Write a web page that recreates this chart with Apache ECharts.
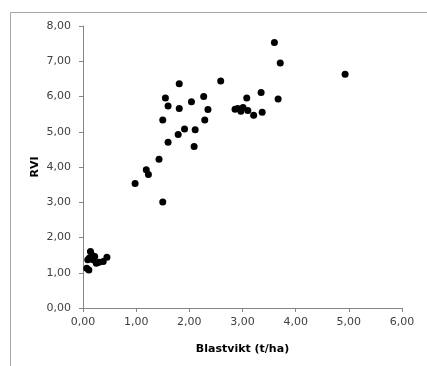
<!DOCTYPE html>
<html>
<head>
<meta charset="utf-8">
<script src="https://cdn.jsdelivr.net/npm/echarts@6/dist/echarts.min.js"></script>
<style>
  html, body { margin: 0; padding: 0; background: #fff; }
</style>
</head>
<body>
<div id="chart-container" style="width: 427px; height: 366px;"></div>
<script>
// Blastvikt (t/ha) och RVI
const blastvikt = [
    3.60, 3.71, 4.93, 2.59, 1.81, 3.35, 2.27, 1.55, 3.08, 3.67,
    2.04, 1.60, 1.81, 2.35, 2.86, 2.91, 2.97, 3.01, 3.10, 3.21,
    3.37, 1.50, 2.29, 1.91, 2.11, 1.79, 1.60, 2.09, 1.43, 1.19,
    1.23, 0.98, 1.50,
    0.14, 0.07, 0.11, 0.12, 0.22, 0.25, 0.38, 0.45, 0.19, 0.09, 0.17, 0.30
];
const rvi = [
    7.53, 6.95, 6.63, 6.44, 6.36, 6.11, 6.00, 5.96, 5.96, 5.93,
    5.85, 5.73, 5.66, 5.63, 5.64, 5.66, 5.58, 5.69, 5.60, 5.47,
    5.55, 5.33, 5.33, 5.08, 5.06, 4.92, 4.70, 4.58, 4.22, 3.92,
    3.79, 3.53, 3.01,
    1.60, 1.13, 1.08, 1.42, 1.46, 1.27, 1.32, 1.44, 1.37, 1.37, 1.50, 1.30
];
const xTicks = [0, 1, 2, 3, 4, 5, 6];
const yTicks = [0, 1, 2, 3, 4, 5, 6, 7, 8];

const chart = echarts.init(document.getElementById("chart-container"));

const fmt = v => v.toFixed(2).replace(".", ",");
const axisGray = "#868686";

const options = {
    animation: false,
    textStyle: { fontFamily: "DejaVu Sans" },
    graphic: [
        {
            type: "rect",
            left: 8,
            top: 10,
            shape: { width: 440, height: 380 },
            style: { fill: null, stroke: "#a6a6a6", lineWidth: 1 }
        }
    ],
    grid: {
        left: 83,
        right: 25,
        top: 26,
        bottom: 58
    },
    xAxis: {
        type: "value",
        min: xTicks[0],
        max: xTicks[xTicks.length - 1],
        interval: 1,
        name: "Blastvikt (t/ha)",
        nameLocation: "middle",
        nameGap: 36,
        nameTextStyle: { fontSize: 11, fontWeight: "bold", color: "#000" },
        splitLine: { show: false },
        axisLine: { show: true, lineStyle: { color: axisGray } },
        axisTick: { show: true, length: 4, lineStyle: { color: axisGray } },
        axisLabel: { formatter: fmt, fontSize: 11, color: "#404040", margin: 9 }
    },
    yAxis: {
        type: "value",
        min: yTicks[0],
        max: yTicks[yTicks.length - 1],
        interval: 1,
        name: "RVI",
        nameLocation: "middle",
        nameGap: 42,
        nameMoveOverlap: false,
        nameRotate: 90,
        nameTextStyle: { fontSize: 11, fontWeight: "bold", color: "#000" },
        splitLine: { show: false },
        axisLine: { show: true, lineStyle: { color: axisGray } },
        axisTick: { show: true, length: 4, lineStyle: { color: axisGray } },
        axisLabel: { formatter: fmt, fontSize: 11, color: "#404040", margin: 12 }
    },
    series: [
        {
            type: "scatter",
            symbol: "circle",
            symbolSize: 7,
            itemStyle: { color: "#000", opacity: 1 },
            data: blastvikt.map((x, i) => [x, rvi[i]])
        }
    ]
};

chart.setOption(options);
</script>
</body>
</html>
